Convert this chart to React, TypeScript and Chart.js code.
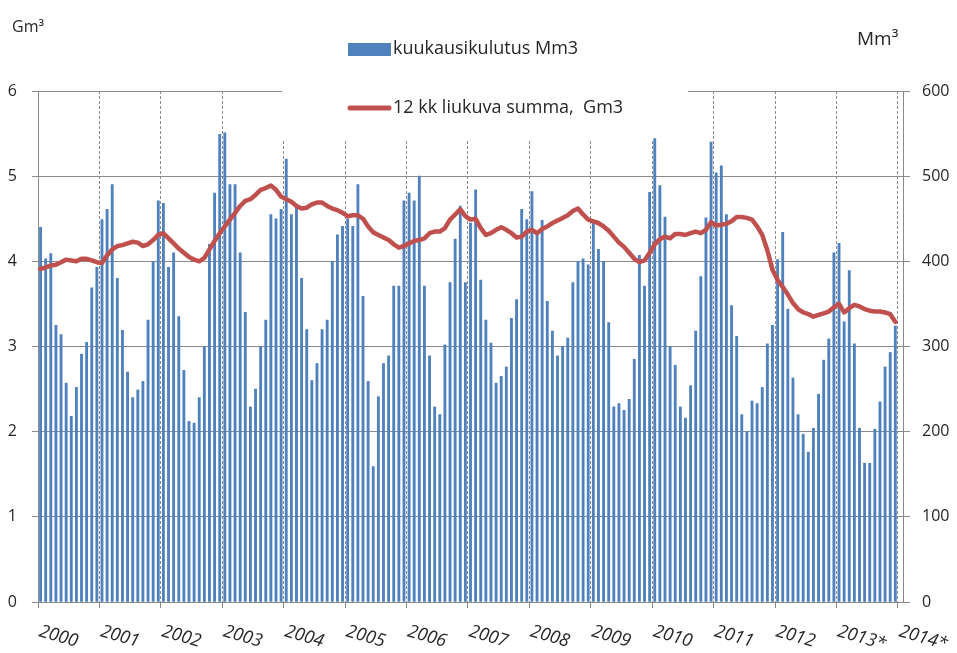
import React, { useEffect, useRef } from 'react';
import { Chart, registerables } from 'chart.js';

Chart.register(...registerables);

const FONT = '"Open Sans", "Noto Sans", sans-serif';

const yearLabels = ['2000', '2001', '2002', '2003', '2004', '2005', '2006', '2007', '2008', '2009', '2010', '2011', '2012', '2013*', '2014*'];

const barLabel = 'kuukausikulutus Mm3';
const lineLabel = '12 kk liukuva summa,  Gm3';

// Monthly consumption, Mm3 (Jan 2000 .. Dec 2013)
const monthly2000 = [440, 403, 409, 325, 314, 257, 218, 252, 291, 305, 369, 393];
const monthly2001 = [449, 461, 490, 380, 319, 270, 240, 249, 259, 331, 400, 471];
const monthly2002 = [468, 393, 410, 335, 272, 212, 210, 240, 300, 420, 480, 549];
const monthly2003 = [551, 490, 490, 410, 340, 229, 250, 300, 331, 455, 450, 461];
const monthly2004 = [520, 455, 467, 380, 320, 260, 280, 320, 331, 400, 431, 441];
const monthly2005 = [450, 441, 490, 359, 259, 159, 241, 280, 289, 371, 371, 471];
const monthly2006 = [480, 471, 500, 371, 289, 229, 220, 302, 375, 426, 465, 375];
const monthly2007 = [445, 484, 378, 331, 304, 257, 265, 276, 333, 355, 461, 449];
const monthly2008 = [482, 435, 448, 353, 318, 289, 300, 310, 375, 400, 403, 396];
const monthly2009 = [445, 414, 400, 328, 229, 233, 225, 238, 285, 407, 371, 481];
const monthly2010 = [544, 489, 452, 300, 278, 229, 216, 254, 318, 382, 451, 540];
const monthly2011 = [504, 512, 455, 348, 312, 220, 200, 236, 233, 252, 303, 325];
const monthly2012 = [402, 434, 344, 263, 220, 197, 176, 204, 244, 284, 309, 410];
const monthly2013 = [421, 329, 389, 303, 204, 163, 163, 203, 235, 276, 293, 324];

// 12-month rolling sum, Gm3
const rolling2000 = [3.91, 3.93, 3.95, 3.96, 3.99, 4.02, 4.01, 4.0, 4.03, 4.03, 4.01, 3.99];
const rolling2001 = [3.98, 4.07, 4.14, 4.18, 4.19, 4.21, 4.23, 4.22, 4.18, 4.2, 4.25, 4.31];
const rolling2002 = [4.33, 4.27, 4.21, 4.15, 4.1, 4.05, 4.02, 4.0, 4.04, 4.14, 4.24, 4.33];
const rolling2003 = [4.41, 4.49, 4.57, 4.65, 4.71, 4.73, 4.78, 4.84, 4.86, 4.89, 4.84, 4.76];
const rolling2004 = [4.73, 4.7, 4.65, 4.62, 4.63, 4.67, 4.69, 4.69, 4.65, 4.62, 4.6, 4.57];
const rolling2005 = [4.53, 4.54, 4.54, 4.5, 4.41, 4.34, 4.31, 4.28, 4.25, 4.2, 4.16, 4.18];
const rolling2006 = [4.21, 4.24, 4.25, 4.27, 4.33, 4.35, 4.35, 4.39, 4.49, 4.55, 4.61, 4.53];
const rolling2007 = [4.49, 4.5, 4.39, 4.31, 4.33, 4.37, 4.4, 4.37, 4.33, 4.28, 4.29, 4.35];
const rolling2008 = [4.37, 4.33, 4.38, 4.41, 4.45, 4.48, 4.51, 4.54, 4.59, 4.62, 4.55, 4.49];
const rolling2009 = [4.47, 4.45, 4.41, 4.36, 4.29, 4.22, 4.17, 4.1, 4.03, 3.99, 4.01, 4.1];
const rolling2010 = [4.2, 4.26, 4.29, 4.27, 4.32, 4.32, 4.31, 4.33, 4.35, 4.33, 4.37, 4.46];
const rolling2011 = [4.42, 4.43, 4.44, 4.47, 4.52, 4.52, 4.51, 4.49, 4.41, 4.31, 4.13, 3.9];
const rolling2012 = [3.78, 3.7, 3.61, 3.51, 3.44, 3.4, 3.38, 3.35, 3.37, 3.39, 3.41, 3.46];
const rolling2013 = [3.5, 3.4, 3.45, 3.49, 3.47, 3.44, 3.42, 3.41, 3.41, 3.4, 3.38, 3.29];

const monthlyMm3 = [
  ...monthly2000, ...monthly2001, ...monthly2002, ...monthly2003, ...monthly2004,
  ...monthly2005, ...monthly2006, ...monthly2007, ...monthly2008, ...monthly2009,
  ...monthly2010, ...monthly2011, ...monthly2012, ...monthly2013,
];
const rollingGm3 = [
  ...rolling2000, ...rolling2001, ...rolling2002, ...rolling2003, ...rolling2004,
  ...rolling2005, ...rolling2006, ...rolling2007, ...rolling2008, ...rolling2009,
  ...rolling2010, ...rolling2011, ...rolling2012, ...rolling2013,
];

const BLUE = '#4F81BD';
const RED = '#C0504D';
const GRID = '#8a8a8a';
const TEXT = '#262626';

export default function App() {
  const ref = useRef<HTMLCanvasElement>(null);

  useEffect(() => {
    const canvas = ref.current;
    if (!canvas) return;
    Chart.defaults.font.family = FONT;

    const barData = monthlyMm3.map((v, i) => ({ x: i + 0.5, y: v }));
    const lineData = rollingGm3.map((v, i) => ({ x: i + 0.5, y: v }));

    const overlay = {
      id: 'overlay',
      beforeDatasetsDraw(chart: any) {
        const ctx = chart.ctx;
        ctx.save();
        ctx.fillStyle = '#ffffff';
        ctx.fillRect(282, 0, 406, 139);
        ctx.fillStyle = BLUE;
        ctx.fillRect(348, 43, 43, 13);
        ctx.strokeStyle = RED;
        ctx.lineWidth = 5;
        ctx.lineCap = 'round';
        ctx.beginPath();
        ctx.moveTo(350, 108);
        ctx.lineTo(389, 108);
        ctx.stroke();
        ctx.fillStyle = TEXT;
        ctx.font = `18px ${FONT}`;
        ctx.textAlign = 'left';
        ctx.textBaseline = 'middle';
        ctx.fillText(barLabel, 393, 49);
        ctx.fillText(lineLabel, 393, 108);
        ctx.restore();
      },
      afterDraw(chart: any) {
        const ctx = chart.ctx;
        const xs = chart.scales.x;
        ctx.save();
        ctx.fillStyle = TEXT;
        ctx.textAlign = 'left';
        ctx.textBaseline = 'alphabetic';
        ctx.font = `italic 18px ${FONT}`;
        yearLabels.forEach((lab, k) => {
          const px = xs.getPixelForValue(k * 12);
          ctx.save();
          ctx.translate(px, 636);
          ctx.rotate((16 * Math.PI) / 180);
          ctx.fillText(lab, 0, 0);
          ctx.restore();
        });
        ctx.font = `16px ${FONT}`;
        ctx.fillText('Gm³', 12, 32);
        ctx.font = `19px ${FONT}`;
        ctx.fillText('Mm³', 857, 45);
        ctx.restore();
      },
    };

    const chart = new Chart(canvas, {
      type: 'bar',
      data: {
        datasets: [
          {
            type: 'bar',
            label: barLabel,
            data: barData as any,
            backgroundColor: BLUE,
            borderWidth: 0,
            barThickness: 2.2,
            yAxisID: 'y2',
            order: 2,
          } as any,
          {
            type: 'line',
            label: lineLabel,
            data: lineData as any,
            borderColor: RED,
            backgroundColor: RED,
            borderWidth: 4.5,
            borderJoinStyle: 'round',
            borderCapStyle: 'round',
            pointRadius: 0,
            tension: 0,
            yAxisID: 'y',
            order: 1,
          } as any,
        ],
      },
      options: {
        animation: false,
        responsive: false,
        devicePixelRatio: 1,
        layout: { padding: { top: 91, left: 0, right: 0, bottom: 0 } },
        plugins: {
          legend: { display: false },
          tooltip: { enabled: false },
        },
        scales: {
          x: {
            type: 'linear',
            min: 0,
            max: 169,
            offset: false,
            grid: {
              offset: false,
              color: GRID,
              lineWidth: 1,
              tickLength: 6,
              tickBorderDash: [],
            },
            border: { color: GRID, dash: [3, 2] },
            ticks: { display: false },
            afterBuildTicks: (scale: any) => {
              scale.ticks = yearLabels.map((_, k) => ({ value: k * 12 }));
            },
            afterFit: (scale: any) => {
              scale.height = 51;
            },
          } as any,
          y: {
            type: 'linear',
            position: 'left',
            min: 0,
            max: 6,
            ticks: { stepSize: 1, color: TEXT, padding: 15, font: { size: 16, family: FONT } },
            grid: { color: GRID, lineWidth: 1, tickLength: 6 },
            border: { color: GRID },
            afterFit: (scale: any) => {
              scale.width = 38;
            },
          } as any,
          y2: {
            type: 'linear',
            position: 'right',
            min: 0,
            max: 600,
            ticks: { stepSize: 100, color: TEXT, padding: 12, font: { size: 16, family: FONT } },
            grid: { drawOnChartArea: false, color: GRID, tickLength: 7 },
            border: { color: GRID },
            afterFit: (scale: any) => {
              scale.width = 54;
            },
          } as any,
        },
      },
      plugins: [overlay],
    });

    return () => chart.destroy();
  }, []);

  return (
    <div style={{ position: 'absolute', left: 0, top: 0, width: 957, height: 653, background: '#fff' }}>
      <canvas ref={ref} width={957} height={653} style={{ width: 957, height: 653, display: 'block' }} />
    </div>
  );
}
